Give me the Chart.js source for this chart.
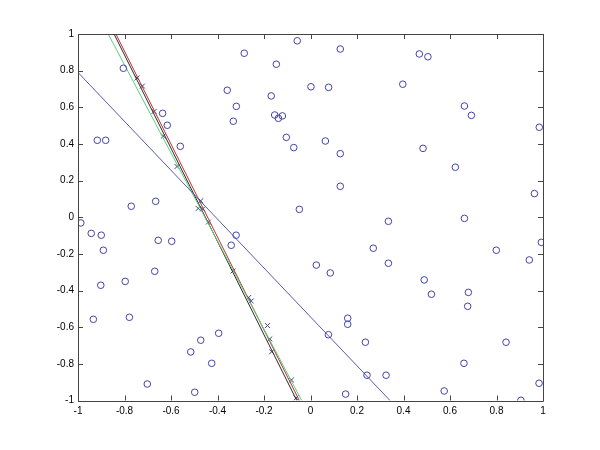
<!DOCTYPE html>
<html>
<head>
<meta charset="utf-8">
<script src="https://cdn.jsdelivr.net/npm/chart.js@4"></script>
<style>
html,body{margin:0;padding:0;background:#fff;}
#wrap{width:600px;height:450px;}
</style>
</head>
<body>
<div id="wrap"><canvas id="c" width="600" height="450"></canvas></div>
<script>
// Scattered samples (blue circles)
const circleX = [-0.805,-0.285,-0.057,0.002,-0.358,-0.319,-0.332,-0.147,-0.169,-0.154,-0.138,-0.121,-0.104,-0.072,-0.048,-0.636,-0.616,-0.560,-0.917,-0.881,-0.771,-0.666,-0.988,0.128,0.468,0.505,0.078,0.397,0.662,0.692,0.984,0.064,0.128,0.484,0.623,0.128,0.963,0.335,0.662,-0.943,-0.900,-0.891,-0.655,-0.597,-0.670,-0.797,-0.902,-0.934,-0.779,-0.320,-0.341,0.025,-0.395,-0.472,-0.515,-0.425,-0.702,-0.498,0.993,0.270,0.799,0.941,0.085,0.335,0.489,0.520,0.679,0.676,0.160,0.160,0.077,0.236,0.841,0.243,0.325,0.660,0.983,0.151,0.575,0.905];
const circleY = [0.813,0.895,0.963,0.712,0.693,0.605,0.524,0.835,0.662,0.558,0.540,0.553,0.436,0.380,0.043,0.567,0.502,0.387,0.420,0.420,0.060,0.087,-0.031,0.918,0.891,0.876,0.709,0.726,0.607,0.556,0.491,0.416,0.347,0.376,0.273,0.169,0.129,-0.022,-0.006,-0.088,-0.098,-0.180,-0.126,-0.131,-0.295,-0.350,-0.371,-0.557,-0.546,-0.098,-0.153,-0.261,-0.633,-0.671,-0.735,-0.797,-0.910,-0.955,-0.137,-0.169,-0.180,-0.233,-0.304,-0.251,-0.342,-0.420,-0.410,-0.486,-0.551,-0.584,-0.641,-0.682,-0.682,-0.862,-0.862,-0.797,-0.906,-0.965,-0.948,-0.999];
// Points on the boundary (x markers)
const crossX = [-0.746,-0.723,-0.673,-0.633,-0.574,-0.483,-0.472,-0.464,-0.439,-0.333,-0.266,-0.255,-0.185,-0.175,-0.167,-0.082,-0.062];
const crossY = [0.760,0.716,0.577,0.443,0.277,0.048,0.090,0.045,-0.026,-0.293,-0.438,-0.457,-0.591,-0.664,-0.734,-0.888,-0.986];
// Lines (end points)
const blueLineX = [-1, 0.342];
const blueLineY = [0.79, -1];
const blackLineX = [-0.845, -0.059];
const blackLineY = [1, -1];
const redLineX = [-0.837, -0.048];
const redLineY = [1, -1];
const greenLineX = [-0.870, -0.038];
const greenLineY = [1, -1];
// Tick values
const xTicks = [-1,-0.8,-0.6,-0.4,-0.2,0,0.2,0.4,0.6,0.8,1];
const yTicks = [-1,-0.8,-0.6,-0.4,-0.2,0,0.2,0.4,0.6,0.8,1];

const pts = (xs, ys) => xs.map((x,i)=>({x:x, y:ys[i]}));
const fmt = v => { const r = Math.round(v*10)/10; return String(r); };

const frameTicks = {
  id:'frameTicks',
  afterDatasetsDraw(chart){
    const {ctx, chartArea:a, scales:{x, y}} = chart;
    ctx.save();
    ctx.strokeStyle = '#444';
    ctx.lineWidth = 1;
    ctx.beginPath();
    ctx.rect(Math.round(a.left)+0.5, Math.round(a.top)+0.5, Math.round(a.right-a.left), Math.round(a.bottom-a.top));
    ctx.stroke();
    const L = 5;
    ctx.beginPath();
    xTicks.forEach(v=>{
      const px = Math.round(x.getPixelForValue(v))+0.5;
      ctx.moveTo(px, a.bottom); ctx.lineTo(px, a.bottom-L);
      ctx.moveTo(px, a.top); ctx.lineTo(px, a.top+L);
    });
    yTicks.forEach(v=>{
      const py = Math.round(y.getPixelForValue(v))+0.5;
      ctx.moveTo(a.left, py); ctx.lineTo(a.left+L, py);
      ctx.moveTo(a.right, py); ctx.lineTo(a.right-L, py);
    });
    ctx.stroke();
    ctx.restore();
  }
};

new Chart(document.getElementById('c'), {
  type:'scatter',
  data:{
    datasets:[
      {data:pts(circleX,circleY), pointStyle:'circle', radius:3.3, borderColor:'#4242a8', backgroundColor:'rgba(0,0,0,0)', borderWidth:1, showLine:false},
      {data:pts(blueLineX,blueLineY), showLine:true, borderColor:'#5a5aa8', borderWidth:1, pointRadius:0},
      {data:pts(greenLineX,greenLineY), showLine:true, borderColor:'#5ccf7a', borderWidth:1, pointRadius:0},
      {data:pts(blackLineX,blackLineY), showLine:true, borderColor:'#2a2a2a', borderWidth:1, pointRadius:0},
      {data:pts(redLineX,redLineY), showLine:true, borderColor:'#b83030', borderWidth:1, pointRadius:0},
      {data:pts(crossX,crossY), pointStyle:'cross', rotation:45, radius:3.5, borderColor:'#45458f', borderWidth:1, showLine:false}
    ]
  },
  options:{
    responsive:false,
    animation:false,
    events:[],
    layout:{padding:{left:0, right:57, top:34, bottom:0}},
    plugins:{legend:{display:false}, tooltip:{enabled:false}},
    scales:{
      x:{
        type:'linear', min:-1, max:1,
        afterBuildTicks: s => { s.ticks = xTicks.map(v=>({value:v})); },
        afterFit: s => { s.height = 49.5; },
        grid:{display:false, drawTicks:false},
        border:{display:false},
        ticks:{color:'#000', padding:5, font:{family:'"Liberation Sans", Arial, sans-serif', size:10}, callback: v => fmt(v), maxRotation:0, autoSkip:false}
      },
      y:{
        type:'linear', min:-1, max:1,
        afterBuildTicks: s => { s.ticks = yTicks.map(v=>({value:v})); },
        afterFit: s => { s.width = 78; },
        grid:{display:false, drawTicks:false},
        border:{display:false},
        ticks:{color:'#000', padding:4, font:{family:'"Liberation Sans", Arial, sans-serif', size:10}, callback: v => fmt(v), autoSkip:false}
      }
    }
  },
  plugins:[frameTicks]
});
</script>
</body>
</html>
